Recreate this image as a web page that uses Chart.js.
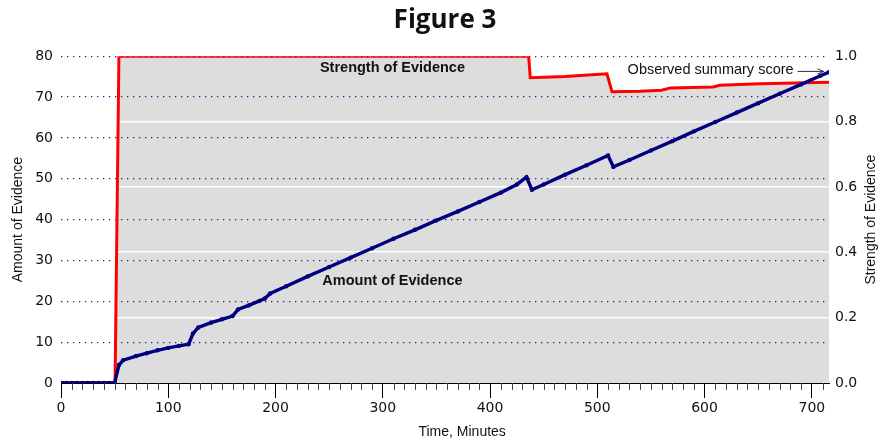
<!DOCTYPE html>
<html>
<head>
<meta charset="utf-8">
<title>Figure 3</title>
<script src="https://cdn.jsdelivr.net/npm/chart.js@4.4.1/dist/chart.umd.min.js"></script>
<style>
  body { margin: 0; background: #fff; }
  canvas { display: block; }
</style>
</head>
<body>
<canvas id="fig3" width="890" height="443"></canvas>
<script>
// Amount of evidence (left axis) against time in minutes
const amountTimes  = [0, 5, 10, 15, 20, 25, 30, 35, 40, 45, 50, 54, 58, 70, 80, 90, 100, 110, 119, 123, 128, 140, 150, 160, 165, 175, 185, 190, 195, 210, 230, 250, 270, 290, 310, 330, 350, 370, 390, 410, 425, 434, 439, 450, 470, 490, 510, 515, 530, 550, 570, 590, 610, 630, 650, 670, 690, 708, 716];
const amountValues = [0, 0, 0, 0, 0, 0, 0, 0, 0, 0, 0, 4.4, 5.6, 6.6, 7.3, 8.0, 8.6, 9.1, 9.5, 12.1, 13.6, 14.8, 15.6, 16.4, 18.0, 19.0, 20.1, 20.7, 21.9, 23.7, 26.1, 28.4, 30.7, 33.0, 35.3, 37.5, 39.8, 42.0, 44.3, 46.6, 48.6, 50.4, 47.3, 48.6, 51.0, 53.3, 55.7, 52.9, 54.6, 56.9, 59.2, 61.6, 63.9, 66.2, 68.5, 70.8, 73.1, 75.2, 76.1];

// Strength of evidence (right axis, 0..1)
const strengthTimes  = [0, 50.4, 54, 436, 437.5, 470, 509, 513.7, 540, 560, 568, 608, 614, 652, 716];
const strengthValues = [0, 0, 1, 1, 0.934, 0.938, 0.946, 0.891, 0.893, 0.896, 0.903, 0.906, 0.911, 0.916, 0.92];

const xTicks     = [0, 100, 200, 300, 400, 500, 600, 700];
const amountTick = 10;
const strengthTick = 0.2;

const toPoints = (xs, ys) => xs.map((t, i) => ({ x: t, y: ys[i] }));

const tickFont = { family: '"DejaVu Sans", Verdana, sans-serif', size: 14 };
const labelFont = { family: '"Liberation Sans", Arial, sans-serif', size: 14 };

// small 10-minute ticks under the x axis + text labels
const extras = {
  id: 'extras',
  afterDatasetsDraw(chart) {
    const { ctx, chartArea, scales: { x, y, y1 } } = chart;
    ctx.save();

    // minor ticks
    ctx.strokeStyle = '#444';
    ctx.lineWidth = 1;
    ctx.beginPath();
    for (let v = 10; v <= x.max; v += 10) {
      if (v % 100 === 0) continue;
      const px = Math.round(x.getPixelForValue(v)) + 0.5;
      ctx.moveTo(px, chartArea.bottom);
      ctx.lineTo(px, chartArea.bottom + 7);
    }
    ctx.stroke();

    // in-plot labels
    ctx.fillStyle = '#111';
    ctx.textBaseline = 'middle';
    ctx.textAlign = 'center';
    ctx.font = 'bold 14.5px "Liberation Sans", Arial, sans-serif';
    ctx.fillText('Strength of Evidence', x.getPixelForValue(309), y1.getPixelForValue(0.965));
    ctx.fillText('Amount of Evidence', x.getPixelForValue(309), y.getPixelForValue(25));

    ctx.textAlign = 'right';
    ctx.font = '14.5px "Liberation Sans", Arial, sans-serif';
    const tx = x.getPixelForValue(683);
    const ty = y1.getPixelForValue(0.958);
    ctx.fillText('Observed summary score', tx, ty);

    // arrow to the last point
    const ax = x.getPixelForValue(711);
    ctx.strokeStyle = '#333';
    ctx.beginPath();
    ctx.moveTo(tx + 4, ty + 1.5);
    ctx.lineTo(ax, ty + 1.5);
    ctx.moveTo(ax - 6, ty - 1);
    ctx.lineTo(ax, ty + 1.5);
    ctx.lineTo(ax - 6, ty + 4);
    ctx.stroke();

    // x axis title
    ctx.textAlign = 'center';
    ctx.font = '14px "Liberation Sans", Arial, sans-serif';
    ctx.fillText('Time, Minutes', x.getPixelForValue(374), chart.height - 11);

    // right axis title, reading upwards
    ctx.save();
    ctx.translate(871, (chartArea.top + chartArea.bottom) / 2);
    ctx.rotate(-Math.PI / 2);
    ctx.fillText('Strength of Evidence', 0, 0);
    ctx.restore();

    ctx.restore();
  }
};

new Chart(document.getElementById('fig3'), {
  type: 'line',
  data: {
    datasets: [
      {
        label: 'Amount of Evidence',
        data: toPoints(amountTimes, amountValues),
        yAxisID: 'y',
        borderColor: '#000080',
        backgroundColor: '#000080',
        borderWidth: 3.4,
        pointRadius: 2.2,
        pointBorderWidth: 0,
        fill: false,
        order: 0
      },
      {
        label: 'Strength of Evidence',
        data: toPoints(strengthTimes, strengthValues),
        yAxisID: 'y1',
        borderColor: '#ff0000',
        backgroundColor: '#dddddd',
        borderWidth: 3,
        pointRadius: 0,
        fill: 'origin',
        order: 1
      }
    ]
  },
  options: {
    responsive: false,
    animation: false,
    layout: { padding: 0 },
    plugins: {
      legend: { display: false },
      tooltip: { enabled: false },
      filler: { drawTime: 'beforeDraw' },
      title: {
        display: true,
        text: 'Figure 3',
        color: '#111',
        font: { family: '"Open Sans", sans-serif', size: 26, weight: 'bold' },
        padding: { top: 5, bottom: 20 }
      }
    },
    scales: {
      x: {
        type: 'linear',
        min: 0,
        max: 716,
        afterBuildTicks: s => { s.ticks = xTicks.map(v => ({ value: v })); },
        afterFit: s => { s.height = 60; },
        ticks: { color: '#111', font: tickFont, padding: 2, maxRotation: 0 },
        grid: { drawOnChartArea: false, tickLength: 15, tickColor: '#000' },
        border: { display: true, color: '#000', width: 1 }
      },
      y: {
        position: 'left',
        min: 0,
        max: 80,
        afterFit: s => { s.width = 61; },
        ticks: { stepSize: amountTick, color: '#111', font: tickFont, padding: 8 },
        grid: {
          drawTicks: false,
          color: c => c.tick.value === 0 ? 'rgba(0,0,0,0)' : '#1c1c8a',
          lineWidth: 1.3
        },
        border: { display: false, dash: [1.3, 4.7] },
        title: { display: true, text: 'Amount of Evidence', color: '#111', font: labelFont, padding: { top: 10, bottom: 0 } }
      },
      y1: {
        position: 'right',
        min: 0,
        max: 1,
        afterFit: s => { s.width = 61; },
        ticks: { stepSize: strengthTick, color: '#111', font: tickFont, padding: 6, callback: v => v.toFixed(1) },
        grid: {
          drawTicks: false,
          color: c => (c.tick.value > 0.01 && c.tick.value < 0.99) ? '#ffffff' : 'rgba(0,0,0,0)',
          lineWidth: 1.6
        },
        border: { display: false }
      }
    }
  },
  plugins: [extras]
});
</script>
</body>
</html>
